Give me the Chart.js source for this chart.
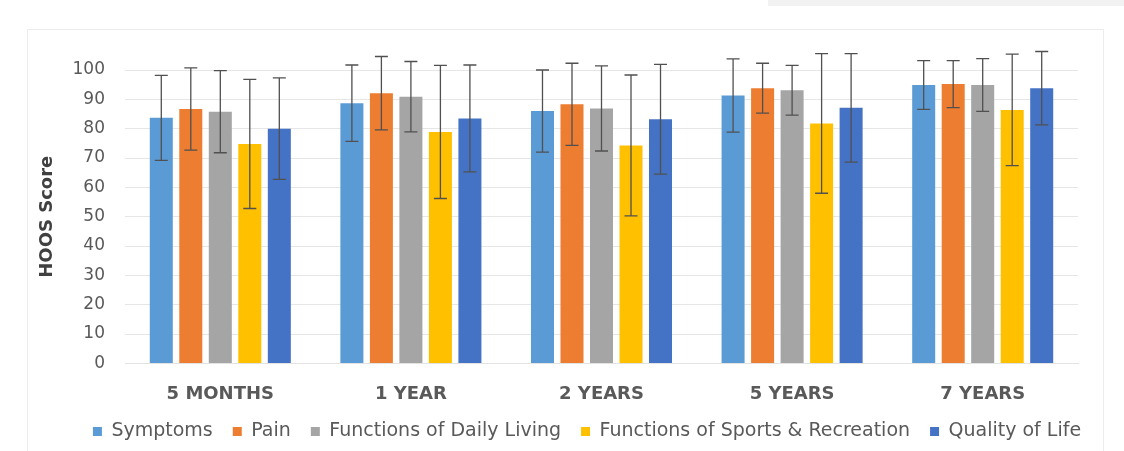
<!DOCTYPE html>
<html>
<head>
<meta charset="utf-8">
<script src="https://cdn.jsdelivr.net/npm/chart.js@4/dist/chart.umd.min.js"></script>
<style>
  html, body { margin: 0; padding: 0; background: #ffffff; }
  #wrap { position: relative; width: 1124px; height: 451px; overflow: hidden; }
  #topbox { position: absolute; left: 768px; top: 0; width: 356px; height: 6px; background: #f2f2f2; }
  #frame { position: absolute; left: 27px; top: 29px; width: 1077px; height: 440px; border: 1px solid #ececec; box-sizing: border-box; }
  canvas { position: absolute; left: 0; top: 0; }
</style>
</head>
<body>
<div id="wrap">
  <div id="topbox"></div>
  <div id="frame"></div>
  <canvas id="c" width="1124" height="451"></canvas>
</div>
<script>
const categories = ["5 MONTHS", "1 YEAR", "2 YEARS", "5 YEARS", "7 YEARS"];
const seriesNames = ["Symptoms", "Pain", "Functions of Daily Living", "Functions of Sports & Recreation", "Quality of Life"];
const seriesColors = ["#5b9bd5", "#ed7d31", "#a5a5a5", "#ffc000", "#4472c4"];

const symptoms      = [83.7, 88.7, 86.0, 91.3, 94.9];
const pain          = [86.7, 92.1, 88.3, 93.8, 95.2];
const dailyLiving   = [85.8, 90.9, 86.9, 93.1, 94.9];
const sportsRec     = [74.8, 78.9, 74.3, 81.8, 86.4];
const qualityOfLife = [80.0, 83.5, 83.2, 87.1, 93.8];

const symptomsSD      = [14.5, 13.0, 14.0, 12.5, 8.3];
const painSD          = [14.0, 12.5, 14.0, 8.5, 8.0];
const dailyLivingSD   = [14.0, 12.0, 14.5, 8.5, 9.0];
const sportsRecSD     = [22.0, 22.7, 24.0, 23.8, 19.0];
const qualityOfLifeSD = [17.3, 18.2, 18.7, 18.5, 12.5];

const yTicks = [0, 10, 20, 30, 40, 50, 60, 70, 80, 90, 100];

const values = [symptoms, pain, dailyLiving, sportsRec, qualityOfLife];
const sds = [symptomsSD, painSD, dailyLivingSD, sportsRecSD, qualityOfLifeSD];

const errorBars = {
  id: 'errorBars',
  afterDatasetsDraw(chart) {
    const ctx = chart.ctx;
    const y = chart.scales.y;
    ctx.save();
    ctx.strokeStyle = '#505050';
    ctx.lineWidth = 1.3;
    chart.data.datasets.forEach((ds, di) => {
      const meta = chart.getDatasetMeta(di);
      meta.data.forEach((bar, i) => {
        const v = ds.data[i], e = ds.sd[i];
        const x = bar.x;
        const yt = y.getPixelForValue(v + e);
        const yb = y.getPixelForValue(v - e);
        ctx.beginPath();
        ctx.moveTo(x, yt); ctx.lineTo(x, yb);
        ctx.moveTo(x - 6.5, yt); ctx.lineTo(x + 6.5, yt);
        ctx.moveTo(x - 6.5, yb); ctx.lineTo(x + 6.5, yb);
        ctx.stroke();
      });
    });
    ctx.restore();
  }
};

const legendShift = {
  id: 'legendShift',
  afterLayout(chart) {
    if (chart.legend) { chart.legend.left += 33; chart.legend.right += 33; }
  }
};

new Chart(document.getElementById('c'), {
  type: 'bar',
  data: {
    labels: categories,
    datasets: seriesNames.map((n, k) => ({
      label: n,
      data: values[k],
      sd: sds[k],
      backgroundColor: seriesColors[k],
      borderWidth: 0,
      categoryPercentage: 0.774,
      barPercentage: 0.78
    }))
  },
  options: {
    responsive: false,
    animation: false,
    devicePixelRatio: 1,
    layout: { padding: { left: 30, right: 46, top: 70, bottom: 0 } },
    plugins: {
      tooltip: { enabled: false },
      legend: {
        position: 'bottom',
        labels: {
          boxWidth: 9, boxHeight: 9, padding: 20,
          color: '#595959',
          font: { family: 'DejaVu Sans', size: 19 }
        }
      }
    },
    scales: {
      x: {
        grid: { display: false, drawTicks: false },
        border: { display: true, color: '#e3e3e3' },
        afterFit(s) { s.height = s.height - 23; },
        ticks: { color: '#595959', padding: 20, font: { family: 'DejaVu Sans', size: 18, weight: 'bold' } }
      },
      y: {
        min: 0, max: 100,
        afterBuildTicks(s) { s.ticks = yTicks.map(v => ({ value: v })); },
        afterFit(s) { s.width = 95; },
        grid: { color: '#e6e6e6', drawTicks: false },
        border: { display: false },
        ticks: { color: '#595959', padding: 20, font: { family: 'DejaVu Sans', size: 17 } },
        title: { display: true, text: 'HOOS Score', color: '#404040', padding: { top: 7, bottom: 0 }, font: { family: 'DejaVu Sans', size: 18, weight: 'bold' } }
      }
    }
  },
  plugins: [errorBars, legendShift]
});
</script>
</body>
</html>
